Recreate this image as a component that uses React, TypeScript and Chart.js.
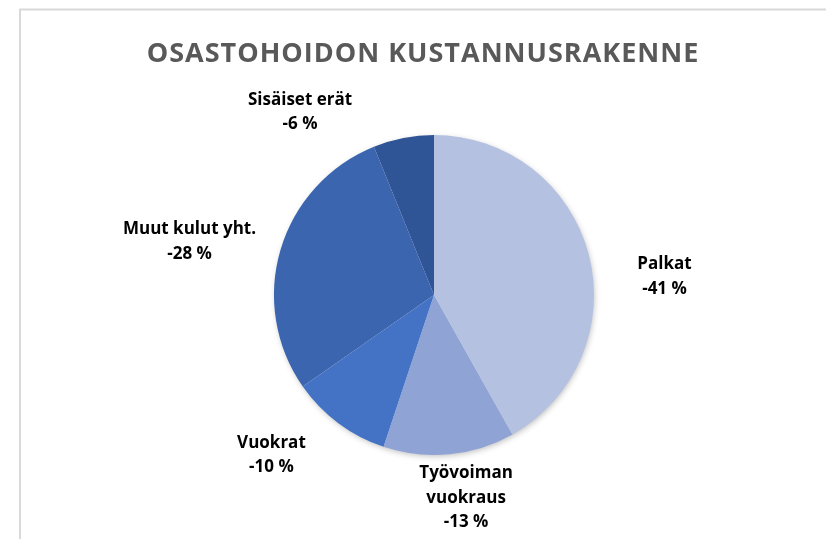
import React, { useEffect, useRef } from "react";
import { Chart, registerables } from "chart.js";

Chart.register(...registerables);

const titleText = "OSASTOHOIDON KUSTANNUSRAKENNE";
const categoryLines: string[][] = [
  ["Palkat"],
  ["Työvoiman", "vuokraus"],
  ["Vuokrat"],
  ["Muut kulut yht."],
  ["Sisäiset erät"],
];
const shares: number[] = [-41, -13, -10, -28, -6];
const sliceColors: string[] = ["#b4c1e1", "#8fa3d5", "#4472c4", "#3b65af", "#2f5597"];

// label placement tweaks (pixels), relative to a point outside the slice mid-angle
const labelDistance = 70;
const labelNudges: [number, number][] = [
  [8, 40],
  [10, -26],
  [-25, -24],
  [-24, 12],
  [-90, 43],
];

const FONT = "'Open Sans', 'DejaVu Sans', sans-serif";

const framePlugin = {
  id: "frameAndTitle",
  beforeDraw(chart: any) {
    const ctx = chart.ctx as CanvasRenderingContext2D;
    const w = chart.width;
    const h = chart.height;
    ctx.save();
    ctx.fillStyle = "#ffffff";
    ctx.fillRect(0, 0, w, h);
    ctx.strokeStyle = "#d9d9d9";
    ctx.lineWidth = 2;
    ctx.beginPath();
    ctx.moveTo(20, h);
    ctx.lineTo(20, 9.5);
    ctx.lineTo(w, 9.5);
    ctx.stroke();
    ctx.fillStyle = "#595959";
    ctx.font = `bold 27px ${FONT}`;
    (ctx as any).letterSpacing = "1px";
    ctx.textAlign = "center";
    ctx.textBaseline = "middle";
    ctx.fillText(titleText, 423, 54);
    ctx.restore();
  },
};

const sliceLabelPlugin = {
  id: "sliceLabels",
  beforeDatasetsDraw(chart: any) {
    const arcs = chart.getDatasetMeta(0).data;
    if (!arcs.length) return;
    const { x, y, outerRadius } = arcs[0].getProps(["x", "y", "outerRadius"], true);
    const ctx = chart.ctx as CanvasRenderingContext2D;
    ctx.save();
    ctx.shadowColor = "rgba(0,0,0,0.28)";
    ctx.shadowBlur = 6;
    ctx.shadowOffsetX = 1;
    ctx.shadowOffsetY = 2;
    ctx.beginPath();
    ctx.arc(x, y, outerRadius - 1, 0, Math.PI * 2);
    ctx.fillStyle = "#ffffff";
    ctx.fill();
    ctx.restore();
  },
  afterDatasetsDraw(chart: any) {
    const ctx = chart.ctx as CanvasRenderingContext2D;
    const arcs = chart.getDatasetMeta(0).data;
    ctx.save();
    ctx.fillStyle = "#000000";
    ctx.font = `bold 17px ${FONT}`;
    ctx.textAlign = "center";
    ctx.textBaseline = "middle";
    const lineH = 24.5;
    arcs.forEach((arc: any, i: number) => {
      const { x, y, startAngle, endAngle, outerRadius } = arc.getProps(
        ["x", "y", "startAngle", "endAngle", "outerRadius"],
        true
      );
      const mid = (startAngle + endAngle) / 2;
      const [nx, ny] = labelNudges[i];
      const cx = x + Math.cos(mid) * (outerRadius + labelDistance) + nx;
      const cy = y + Math.sin(mid) * (outerRadius + labelDistance) + ny;
      const lines = [...categoryLines[i], `${shares[i]} %`];
      const top = cy - ((lines.length - 1) * lineH) / 2;
      lines.forEach((t, k) => ctx.fillText(t, cx, top + k * lineH));
    });
    ctx.restore();
  },
};

export default function App() {
  const ref = useRef<HTMLCanvasElement | null>(null);
  useEffect(() => {
    if (!ref.current) return;
    const chart = new Chart(ref.current, {
      type: "pie",
      data: {
        labels: categoryLines.map((l) => l.join(" ")),
        datasets: [
          {
            data: shares.map((v) => Math.abs(v)),
            backgroundColor: sliceColors,
            borderWidth: 0,
          },
        ],
      },
      options: {
        animation: false,
        responsive: true,
        maintainAspectRatio: false,
        layout: { padding: { top: 135, bottom: 84, left: 100, right: 58 } },
        plugins: {
          legend: { display: false },
          tooltip: { enabled: false },
          title: { display: false },
        },
      },
      plugins: [framePlugin, sliceLabelPlugin],
    });
    return () => chart.destroy();
  }, []);
  return (
    <div style={{ position: "fixed", left: 0, top: 0, width: 826, height: 539, background: "#fff" }}>
      <canvas ref={ref} />
    </div>
  );
}
